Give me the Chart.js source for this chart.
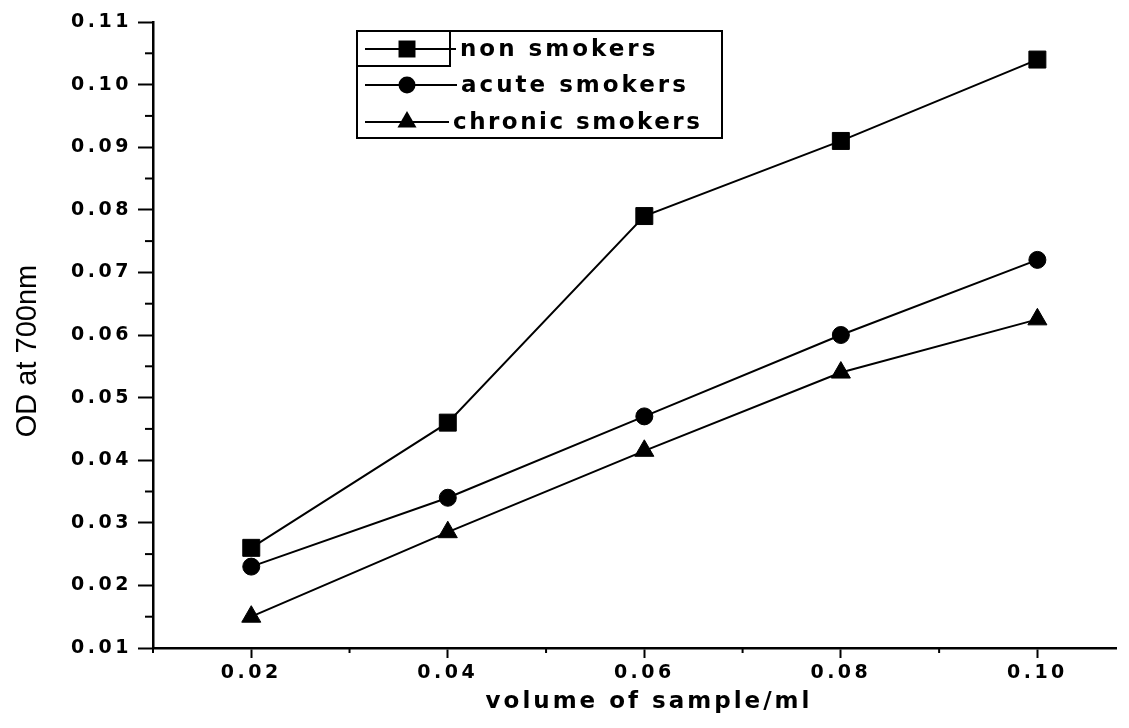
<!DOCTYPE html>
<html>
<head>
<meta charset="utf-8">
<script src="https://cdn.jsdelivr.net/npm/chart.js@4/dist/chart.umd.min.js"></script>
<style>
  html, body { margin: 0; padding: 0; background: #fff; }
</style>
</head>
<body>
<canvas id="myChart" width="1129" height="728"></canvas>
<script>
//data
const volumes = [0.02, 0.04, 0.06, 0.08, 0.10];
const nonSmokers = [0.026, 0.046, 0.079, 0.091, 0.104];
const acuteSmokers = [0.023, 0.034, 0.047, 0.060, 0.072];
const chronicSmokers = [0.015, 0.0285, 0.0415, 0.054, 0.0625];

const seriesNames = ["non smokers", "acute smokers", "chronic smokers"];

//axis ticks
const xTicks = [0.02, 0.04, 0.06, 0.08, 0.10];
const xMinorTicks = [0.01, 0.03, 0.05, 0.07, 0.09];
const yTicks = [0.01, 0.02, 0.03, 0.04, 0.05, 0.06, 0.07, 0.08, 0.09, 0.10, 0.11];
const yMinorTicks = [0.015, 0.025, 0.035, 0.045, 0.055, 0.065, 0.075, 0.085, 0.095, 0.105];

const tickFont = { family: "'DejaVu Sans', sans-serif", size: 19, weight: "bold" };

function toPoints(values) {
  return volumes.map((v, i) => ({ x: v, y: values[i] }));
}

function makeSeries(name, values, style, radius) {
  return {
    label: name,
    data: toPoints(values),
    borderColor: "#000",
    borderWidth: 2,
    backgroundColor: "#000",
    pointStyle: style,
    pointRadius: radius,
    pointBackgroundColor: "#000",
    pointBorderColor: "#000",
    pointBorderWidth: 1,
    tension: 0,
  };
}

//marker for the legend box
function drawMarker(ctx, style, r, x, y) {
  ctx.beginPath();
  if (style === "rect") {
    const s = r * Math.SQRT1_2;
    ctx.rect(x - s, y - s, 2 * s, 2 * s);
  } else if (style === "circle") {
    ctx.arc(x, y, r, 0, Math.PI * 2);
  } else {
    let rad = 0;
    ctx.moveTo(x + Math.sin(rad) * r, y - Math.cos(rad) * r);
    rad += (2 * Math.PI) / 3;
    ctx.lineTo(x + Math.sin(rad) * r, y - Math.cos(rad) * r);
    rad += (2 * Math.PI) / 3;
    ctx.lineTo(x + Math.sin(rad) * r, y - Math.cos(rad) * r);
    ctx.closePath();
  }
  ctx.fill();
}

const extras = {
  id: "extras",
  beforeDraw(chart) {
    chart.ctx.letterSpacing = "3.5px";
  },
  afterDraw(chart) {
    const ctx = chart.ctx;
    const area = chart.chartArea;
    const xs = chart.scales.x;
    const ys = chart.scales.y;
    ctx.save();
    ctx.strokeStyle = "#000";
    ctx.fillStyle = "#000";

    //minor ticks
    ctx.lineWidth = 2;
    xMinorTicks.forEach((v) => {
      const px = xs.getPixelForValue(v);
      ctx.beginPath();
      ctx.moveTo(px, area.bottom);
      ctx.lineTo(px, area.bottom + 5);
      ctx.stroke();
    });
    yMinorTicks.forEach((v) => {
      const py = ys.getPixelForValue(v);
      ctx.beginPath();
      ctx.moveTo(area.left - 8, py);
      ctx.lineTo(area.left, py);
      ctx.stroke();
    });

    //legend box
    const box = { left: 357, top: 31, right: 722, bottom: 138 };
    ctx.lineWidth = 2;
    ctx.strokeRect(box.left, box.top, box.right - box.left, box.bottom - box.top);
    ctx.strokeRect(box.left, box.top, 93, 35);
    const rows = [49, 85, 122];
    const textX = [460, 461, 453];
    ctx.font = "bold 23px 'DejaVu Sans', sans-serif";
    ctx.textBaseline = "middle";
    ctx.textAlign = "left";
    chart.data.datasets.forEach((ds, i) => {
      const y = rows[i];
      ctx.lineWidth = 2;
      ctx.beginPath();
      ctx.moveTo(365, y);
      ctx.lineTo(textX[i] - 4, y);
      ctx.stroke();
      drawMarker(ctx, ds.pointStyle, ds.pointRadius, 407, y);
      ctx.letterSpacing = i === 2 ? "2.5px" : "3px";
      ctx.fillText(ds.label, textX[i], y + 1);
    });

    //axis titles
    ctx.letterSpacing = "3px";
    ctx.textAlign = "center";
    ctx.font = "bold 23px 'DejaVu Sans', sans-serif";
    ctx.fillText("volume of sample/ml", 649, 702);

    ctx.letterSpacing = "0px";
    ctx.font = "29px 'Liberation Sans', Arial, sans-serif";
    ctx.translate(28, (area.top + area.bottom) / 2 + 16);
    ctx.rotate(-Math.PI / 2);
    ctx.fillText("OD at 700nm", 0, 0);
    ctx.restore();
    ctx.letterSpacing = "0px";
  },
};

const ctx = document.getElementById("myChart");
const myChart = new Chart(ctx, {
  type: "line",
  data: {
    datasets: [
      makeSeries(seriesNames[0], nonSmokers, "rect", 12),
      makeSeries(seriesNames[1], acuteSmokers, "circle", 8.5),
      makeSeries(seriesNames[2], chronicSmokers, "triangle", 11),
    ],
  },
  options: {
    responsive: false,
    animation: false,
    devicePixelRatio: 1,
    layout: { padding: { top: 22, right: 0, left: 0, bottom: 0 } },
    plugins: {
      legend: { display: false },
      tooltip: { enabled: false },
    },
    scales: {
      x: {
        type: "linear",
        min: 0.01,
        max: 0.108,
        afterBuildTicks: (scale) => {
          scale.ticks = xTicks.map((v) => ({ value: v }));
        },
        afterFit: (scale) => {
          scale.height = 80;
        },
        ticks: {
          callback: (v) => v.toFixed(2),
          color: "#000",
          font: tickFont,
          padding: 4,
          maxRotation: 0,
          autoSkip: false,
        },
        grid: {
          drawOnChartArea: false,
          drawTicks: true,
          tickLength: 10,
          tickWidth: 2,
          tickColor: "#000",
        },
        border: { color: "#000", width: 2.5 },
      },
      y: {
        type: "linear",
        min: 0.01,
        max: 0.11,
        afterBuildTicks: (scale) => {
          scale.ticks = yTicks.map((v) => ({ value: v }));
        },
        afterFit: (scale) => {
          scale.width = 153;
        },
        ticks: {
          callback: (v) => v.toFixed(2),
          color: "#000",
          font: tickFont,
          padding: 6,
          autoSkip: false,
        },
        grid: {
          drawOnChartArea: false,
          drawTicks: true,
          tickLength: 15,
          tickWidth: 2,
          tickColor: "#000",
        },
        border: { color: "#000", width: 2.5 },
      },
    },
  },
  plugins: [extras],
});
</script>
</body>
</html>
